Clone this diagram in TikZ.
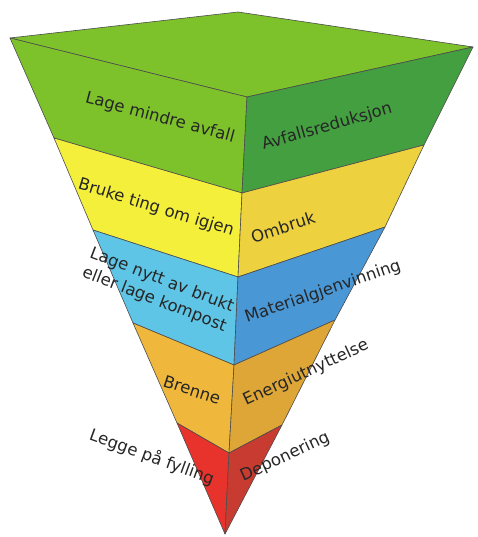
\documentclass[tikz,border=0pt]{standalone}
\usepackage{fontspec}
\setmainfont{DejaVu Sans}
\usepackage{xcolor}
\usetikzlibrary{positioning}

\definecolor{topgreen}{HTML}{7DC12B}
\definecolor{lgreen}{HTML}{7EC22B}
\definecolor{rgreen}{HTML}{439F3F}
\definecolor{lyellow}{HTML}{F4EF3A}
\definecolor{ryellow}{HTML}{EDD13E}
\definecolor{lblue}{HTML}{5EC5E6}
\definecolor{rblue}{HTML}{4A97D6}
\definecolor{lorange}{HTML}{EFB83C}
\definecolor{rorange}{HTML}{DDA637}
\definecolor{lred}{HTML}{E7332B}
\definecolor{rred}{HTML}{C73B31}

\begin{document}
\begin{tikzpicture}[
  x=1pt, y=1pt,
  face/.style={draw=black!70, line width=0.6pt, line join=round},
  lbl/.style={font=\fontsize{16.5}{21}\selectfont, text=black!85, inner sep=0pt, align=center}
]
\useasboundingbox (0,0) rectangle (477,537);

% corners of the funnel
\coordinate (T) at (238,525);
\coordinate (L0) at (10,499);
\coordinate (C0) at (247,440);
\coordinate (R0) at (473,490);
\coordinate (L1) at (54,399);
\coordinate (C1) at (242,344);
\coordinate (R1) at (424,392);
\coordinate (L2) at (93,307);
\coordinate (C2) at (238,260);
\coordinate (R2) at (385,310);
\coordinate (L3) at (133,214);
\coordinate (C3) at (234,172);
\coordinate (R3) at (335,217);
\coordinate (L4) at (177,114);
\coordinate (C4) at (229,84);
\coordinate (R4) at (282,112);
\coordinate (A) at (225,3);

% top face
\draw[face, fill=topgreen] (L0) -- (T) -- (R0) -- (C0) -- cycle;

% bands
\foreach \a/\b/\lc/\rc in {0/1/lgreen/rgreen, 1/2/lyellow/ryellow,
                           2/3/lblue/rblue, 3/4/lorange/rorange} {
  \draw[face, fill=\lc] (L\a) -- (C\a) -- (C\b) -- (L\b) -- cycle;
  \draw[face, fill=\rc] (C\a) -- (R\a) -- (R\b) -- (C\b) -- cycle;
}
\draw[face, fill=lred] (L4) -- (C4) -- (A) -- cycle;
\draw[face, fill=rred] (C4) -- (R4) -- (A) -- cycle;

% labels
\node[lbl, rotate=-15] (reduce) at (160,419) {Lage mindre avfall};
\node[lbl, rotate=16] (reduceR) at (327,410) {Avfallsreduksjon};
\node[lbl, rotate=-17] (reuse) at (156,329) {Bruke ting om igjen};
\node[lbl, rotate=18] (reuseR) at (283,310) {Ombruk};
\node[lbl, rotate=-21] (recycle) at (158,247) {Lage nytt av brukt\\eller lage kompost};
\node[lbl, rotate=19] (recycleR) at (323,245) {Materialgjenvinning};
\node[lbl, rotate=-18] (burn) at (192,147) {Brenne};
\node[lbl, rotate=25] (burnR) at (306,164) {Energiutnyttelse};
\node[lbl, rotate=-20] (landfill) at (152,80) {Legge på fylling};
\node[lbl, rotate=25] (landfillR) at (285,80) {Deponering};
\end{tikzpicture}
\end{document}
